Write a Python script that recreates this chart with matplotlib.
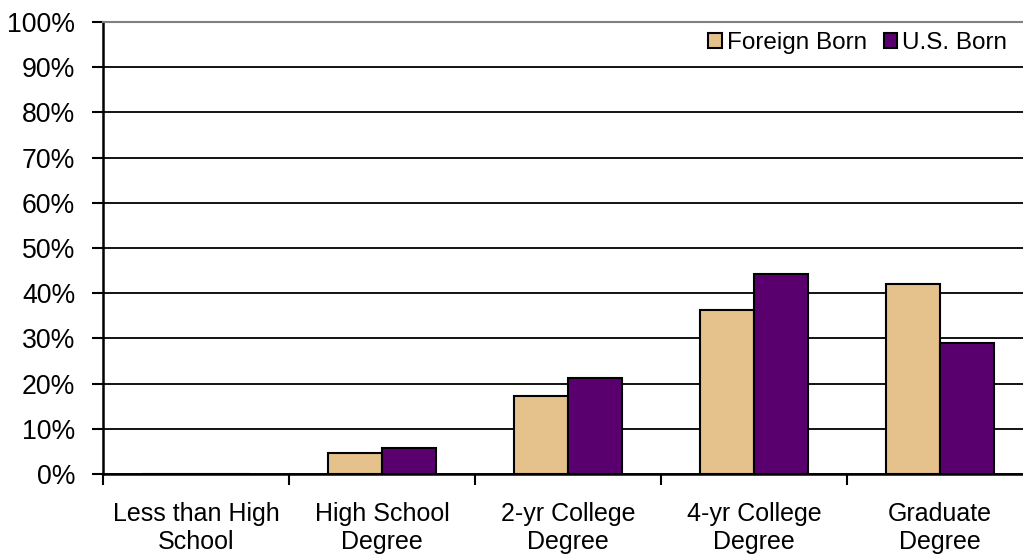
import matplotlib
matplotlib.use("Agg")
import matplotlib.pyplot as plt
import numpy as np

categories = ["Less than High\nSchool", "High School\nDegree", "2-yr College\nDegree",
              "4-yr College\nDegree", "Graduate\nDegree"]
foreign_born = [0.0, 4.6, 17.3, 36.3, 42.1]
us_born = [0.0, 5.8, 21.3, 44.3, 29.0]
series_names = ["Foreign Born", "U.S. Born"]
y_ticks = list(range(0, 101, 10))
y_labels = [f"{v}%" for v in y_ticks]

plt.rcParams["font.family"] = ["Liberation Sans", "DejaVu Sans"]

fig = plt.figure(figsize=(10.23, 5.55), dpi=100)
# the plot area runs slightly past the right edge of the canvas
ax = fig.add_axes([103 / 1023, 0.1459, 930 / 1023, 0.8145])

x = np.arange(len(categories))
w = 0.288
ax.bar(x - w / 2, foreign_born, w, color="#E5C28C", edgecolor="black", linewidth=1.5,
       label=series_names[0], zorder=3)
ax.bar(x + w / 2, us_born, w, color="#5A006E", edgecolor="black", linewidth=1.5,
       label=series_names[1], zorder=3)

ax.set_ylim(0, 100)
ax.set_xlim(-0.5, len(categories) - 0.5)
ax.set_yticks(y_ticks)
ax.set_yticklabels(y_labels, fontsize=19.2)
ax.yaxis.grid(True, color="black", linewidth=1.3, zorder=0)
ax.set_axisbelow(True)

# category labels centred, tick marks on category boundaries
ax.set_xticks(x)
ax.set_xticklabels(categories, fontsize=18)
ax.tick_params(axis="x", which="major", length=0, pad=20)
ax.set_xticks(np.arange(-0.5, len(categories), 1.0), minor=True)
ax.tick_params(axis="x", which="minor", length=8, width=1.5, color="black")
ax.tick_params(axis="y", length=8, width=1.5, color="black", pad=12)

for side in ["left", "bottom"]:
    ax.spines[side].set_linewidth(1.8)
    ax.spines[side].set_color("black")
ax.spines["top"].set_color("#808080")
ax.spines["top"].set_linewidth(1.5)
ax.spines["right"].set_visible(False)

ax.legend(loc="center right", bbox_to_anchor=(1007 / 1023, 1 - 43 / 555),
          bbox_transform=fig.transFigure, ncol=2, frameon=False, fontsize=17.5,
          handlelength=0.55, handleheight=0.55, handletextpad=0.2,
          columnspacing=0.7, borderpad=0, borderaxespad=0)

fig.savefig("out.png", dpi=100)
